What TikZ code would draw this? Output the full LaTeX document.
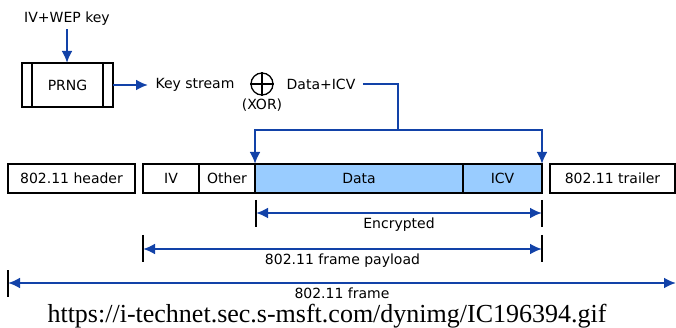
\documentclass[tikz,border=0pt]{standalone}
\usepackage{fontspec}
\setmainfont{DejaVu Sans}
\newfontfamily\srcfont{Liberation Serif}
\usetikzlibrary{arrows.meta,positioning}
\definecolor{wepblue}{RGB}{18,66,168}
\definecolor{encfill}{RGB}{153,204,255}

\begin{document}
\begin{tikzpicture}[x=1pt, y=-1pt, font=\fontsize{14}{16}\selectfont,
  box/.style={draw, line width=1.1pt, minimum height=29pt, inner sep=0pt, outer sep=0pt, anchor=north west},
  flow/.style={draw=wepblue, line width=2.8pt, -{Latex[length=12pt,width=11pt]}},
  span/.style={draw=wepblue, line width=2.8pt, {Latex[length=12pt,width=11pt]}-{Latex[length=12pt,width=11pt]}},
  tick/.style={line width=1.1pt}]
 \useasboundingbox (0,0) rectangle (676,328);

 % key generation
 \node (key) at (67,19) {IV+WEP key};
 \node[box, minimum width=91pt, minimum height=44pt] (prng) at (22,63) {PRNG};
 \draw[tick] ([xshift=10pt]prng.north west) -- ([xshift=10pt]prng.south west);
 \draw[tick] ([xshift=-10pt]prng.north east) -- ([xshift=-10pt]prng.south east);
 \node (stream) at (195,85) {Key stream};
 \node[circle, draw, line width=1.3pt, minimum size=22pt, inner sep=0pt] (xor) at (262,84) {};
 \draw[line width=1.3pt] (xor.north) -- (xor.south);
 \draw[line width=1.3pt] (xor.west) -- (xor.east);
 \node (xorlbl) at (262,105) {(XOR)};
 \node (dicv) at (321,84) {Data+ICV};

 \draw[flow] (key.south) -- (key.south |- prng.north);
 \draw[flow, shorten >=4pt] (prng.east) -- (stream.west);

 % frame
 \node[box, minimum width=127pt] (hdr) at (8,164) {802.11 header};
 \node[box, minimum width=56pt] (iv) at (143,164) {IV};
 \node[box, minimum width=56pt, right=0pt of iv] (other) {Other};
 \node[box, minimum width=208pt, fill=encfill, right=0pt of other] (data) {Data};
 \node[box, minimum width=79pt, fill=encfill, right=0pt of data] (icv) {ICV};
 \node[box, minimum width=125pt] (trl) at (550,164) {802.11 trailer};

 % data+icv into the frame
 \coordinate (fork) at (398,130);
 \draw[draw=wepblue, line width=2.8pt, shorten <=4pt] (dicv.east) -| (fork);
 \draw[flow] (fork) -| (data.north west);
 \draw[flow] (fork) -| (icv.north east);

 % spans
 \coordinate (e1) at (256,213);
 \coordinate (e2) at (542,213);
 \coordinate (p1) at (143,249);
 \coordinate (p2) at (542,249);
 \coordinate (f1) at (8,283);
 \coordinate (f2) at (676,283);

 \draw[tick] (256,200) -- (256,227);
 \draw[tick] (542,200) -- (542,227);
 \draw[tick] (143,235) -- (143,262);
 \draw[tick] (542,235) -- (542,262);
 \draw[tick] (8,270) -- (8,297);

 \draw[span] (e1) -- node[below] {Encrypted} (e2);
 \draw[span] (p1) -- node[below] {802.11 frame payload} (p2);
 \draw[span] (f1) -- node[below] {802.11 frame} (f2);

 \node[font=\srcfont\fontsize{26}{30}\selectfont, anchor=base] (src) at (327,322) {https://i-technet.sec.s-msft.com/dynimg/IC196394.gif};
\end{tikzpicture}
\end{document}
